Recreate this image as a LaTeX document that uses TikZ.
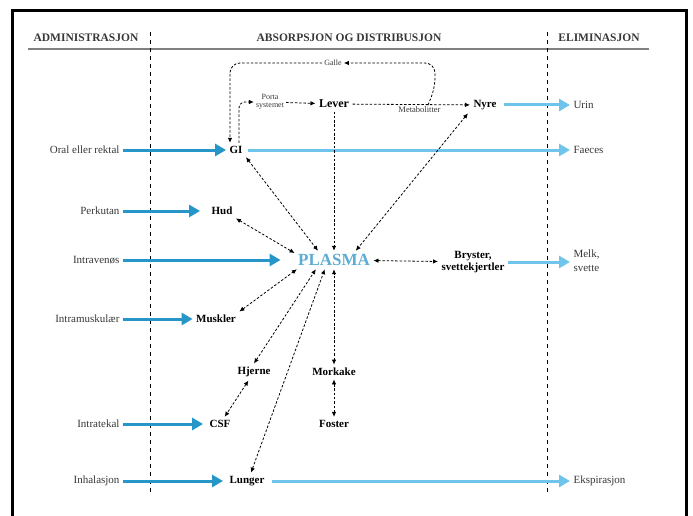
\documentclass[tikz,border=0pt]{standalone}
\usepackage{fontspec}
\setmainfont{Liberation Serif}
\usetikzlibrary{arrows.meta}

\definecolor{indose}{RGB}{38,150,200}
\definecolor{outdose}{RGB}{110,196,235}
\definecolor{plasmablue}{RGB}{92,172,212}
\definecolor{txtgrey}{RGB}{55,55,55}

\tikzset{
  header/.style={font=\fontsize{11.5}{12}\selectfont\bfseries, text=txtgrey},
  route/.style={font=\fontsize{11}{12}\selectfont, text=txtgrey, anchor=east},
  outlet/.style={font=\fontsize{11}{14}\selectfont, text=txtgrey, anchor=west, align=left},
  organ/.style={font=\fontsize{11}{12}\selectfont\bfseries, align=center},
  note/.style={font=\fontsize{8}{8}\selectfont, text=txtgrey, align=center, inner sep=2pt},
  inarrow/.style={draw=indose, line width=3pt, -{Triangle[length=11pt,width=12pt]}},
  outarrow/.style={draw=outdose, line width=3pt, -{Triangle[length=11pt,width=12pt]}},
  dasharr/.style={line width=0.8pt, dash pattern=on 2.5pt off 1.8pt, -{Latex[length=5pt,width=4.5pt]}},
  dashboth/.style={dasharr, {Latex[length=5pt,width=4.5pt]}-{Latex[length=5pt,width=4.5pt]}},
  separator/.style={line width=0.8pt, dash pattern=on 4pt off 4pt}
}

\begin{document}
\begin{tikzpicture}[x=1pt,y=-1pt]
  \useasboundingbox (0,0) rectangle (693,516);
  \draw[line width=3pt] (12,530) -- (12,11) -- (686,11) -- (686,530);

  % kolonner
  \node[header] (adm) at (86,38) {ADMINISTRASJON};
  \node[header] (absorp) at (349,38) {ABSORPSJON OG DISTRIBUSJON};
  \node[header] (elim) at (599,38) {ELIMINASJON};
  \draw[line width=1.2pt, gray] (28,49) -- (649,49);
  \draw[separator] (150,32) -- (150,494);
  \draw[separator] (547,32) -- (547,494);

  % organer
  \node[organ, font=\fontsize{17}{18}\selectfont\bfseries, text=plasmablue] (plasma) at (334,260) {PLASMA};
  \node[organ] (gi) at (236,150) {GI};
  \node[organ] (hud) at (222,211) {Hud};
  \node[organ] (muskler) at (216,319) {Muskler};
  \node[organ] (hjerne) at (254,372) {Hjerne};
  \node[organ] (morkake) at (334,372) {Morkake};
  \node[organ] (csf) at (220,424) {CSF};
  \node[organ] (foster) at (334,424) {Foster};
  \node[organ] (lunger) at (247,481) {Lunger};
  \node[organ, font=\fontsize{12}{13}\selectfont\bfseries] (lever) at (334,104) {Lever};
  \node[organ] (nyre) at (485,105) {Nyre};
  \node[organ] (bryster) at (473,262) {Bryster,\\svettekjertler};
  \node[note] (porta) at (270,102) {Porta\\systemet};
  \node[note] (galle) at (333,63) {Galle};

  % administrasjon
  \node[route] (oral) at (123,150) {Oral eller rektal};
  \node[route] (perkutan) at (123,211) {Perkutan};
  \node[route] (intraven) at (123,260) {Intravenøs};
  \node[route] (intramusk) at (123,319) {Intramuskulær};
  \node[route] (intratek) at (123,424) {Intratekal};
  \node[route] (inhal) at (123,481) {Inhalasjon};

  % eliminasjon
  \node[outlet] (urin) at (570,105) {Urin};
  \node[outlet] (faeces) at (570,150) {Faeces};
  \node[outlet] (melk) at (570,261) {Melk,\\svette};
  \node[outlet] (ekspir) at (570,481) {Ekspirasjon};

  \draw[inarrow] (oral.east) -- (gi.west);
  \draw[inarrow, shorten >=8pt] (perkutan.east) -- (hud.west);
  \draw[inarrow, shorten >=14pt] (intraven.east) -- (plasma.west);
  \draw[inarrow] (intramusk.east) -- (muskler.west);
  \draw[inarrow, shorten >=3pt] (intratek.east) -- (csf.west);
  \draw[inarrow, shorten >=3pt] (inhal.east) -- (lunger.west);

  \draw[outarrow, shorten <=4pt] (nyre.east) -- (urin.west);
  \draw[outarrow, shorten <=2pt] (gi.east) -- (faeces.west);
  \draw[outarrow] (bryster.east) -- (bryster.east -| melk.west);
  \draw[outarrow, shorten <=4pt] (lunger.east) -- (ekspir.west);

  % distribusjon
  \draw[dashboth] (gi.south east) -- (plasma.150);
  \draw[dashboth] (hud.south east) -- (plasma.170);
  \draw[dashboth] (muskler.north east) -- (plasma.194);
  \draw[dashboth] (hjerne.north) -- (plasma.207);
  \draw[dashboth] ([xshift=4pt]lunger.north) -- (plasma.225);
  \draw[dashboth] (morkake) -- (plasma);
  \draw[dashboth] ([xshift=-2pt]nyre.south west) -- (plasma.23);
  \draw[dashboth] (plasma) -- (bryster);
  \draw[dashboth] (hjerne) -- (csf);
  \draw[dashboth] (morkake) -- (foster);
  \draw[dasharr] (lever) -- (plasma);

  % portasystemet og galle
  \draw[dasharr, rounded corners=6pt] ([xshift=3pt]gi.north) |- (porta.west);
  \draw[dasharr] (porta) -- (lever);
  \draw[dasharr] (lever) -- node[pos=0.57, below, note, font=\fontsize{8.5}{9}\selectfont] {Metabolitter} (nyre);
  \coordinate (gsplit) at (428,105);
  \draw[dasharr, rounded corners=10pt] (gsplit) -- (435,88) -- (435,63) -- (galle.east);
  \draw[dasharr, rounded corners=10pt] (galle.west) -- (230,63) -- (230,80 |- gi.north);
\end{tikzpicture}
\end{document}
